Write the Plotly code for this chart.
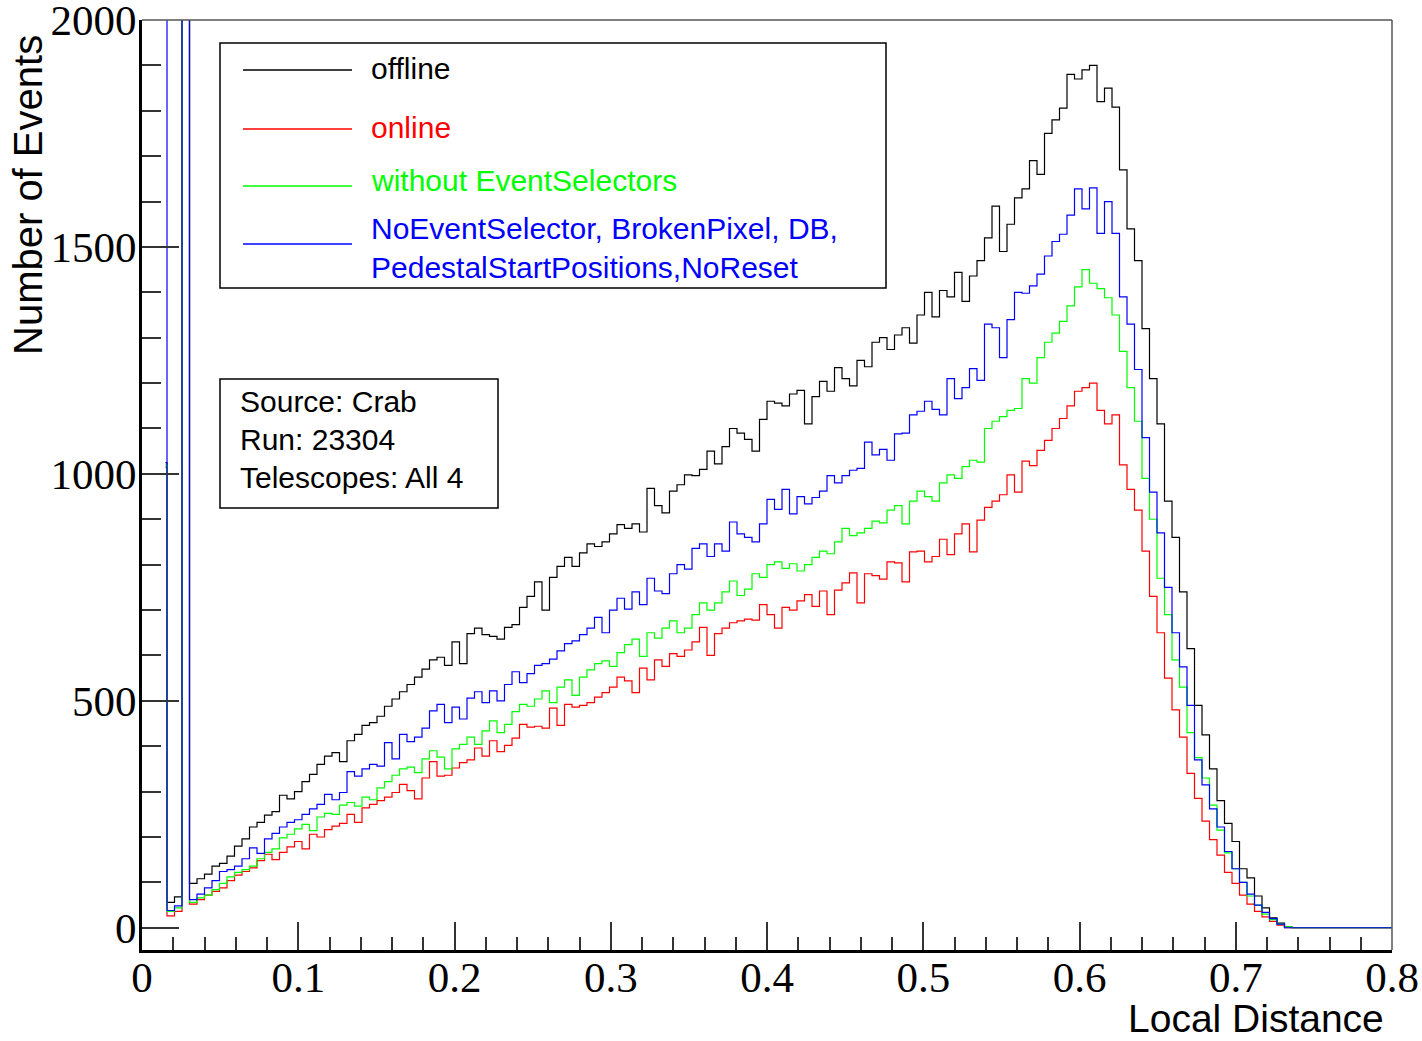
import plotly.graph_objects as go

# ---------------- data ----------------
# bin edges of the histogram (Local Distance)
head_edges = [0.0150, 0.0160, 0.0208, 0.0256]
reg_start, reg_width, reg_count = 0.0304, 0.0048, 148
tail_edge = 0.8

# first 4 (irregular) bins near the origin; values above 2000 are off-scale spikes
offline_head = [1025, 56, 68, 3000]
online_head = [1015, 26, 36, 3000]
noevsel_head = [1020, 36, 44, 3000]
custom_head = [4000, 38, 48, 4000]

offline = [
    98, 108, 118, 136, 142, 158, 180, 196, 222, 232,
    248, 256, 292, 284, 300, 322, 338, 360, 378, 386,
    366, 412, 426, 446, 452, 466, 488, 504, 520, 536,
    552, 570, 590, 596, 578, 630, 582, 648, 660, 646,
    642, 636, 662, 668, 706, 730, 762, 700, 772, 796,
    816, 796, 826, 846, 840, 850, 868, 888, 880, 890,
    872, 968, 930, 914, 962, 976, 998, 996, 1010, 1050,
    1022, 1060, 1100, 1090, 1076, 1050, 1120, 1160, 1156, 1150,
    1176, 1184, 1110, 1170, 1204, 1182, 1234, 1210, 1194, 1250,
    1236, 1290, 1300, 1274, 1306, 1322, 1288, 1350, 1400, 1346,
    1404, 1390, 1444, 1380, 1436, 1470, 1520, 1590, 1490, 1550,
    1608, 1628, 1690, 1660, 1750, 1780, 1806, 1880, 1870, 1890,
    1900, 1820, 1850, 1808, 1670, 1540, 1470, 1320, 1210, 1110,
    940, 860, 740, 615, 490, 425, 350, 280, 230, 190,
    130, 110, 70, 44, 22, 10, 2, 0,
]
online = [
    52, 62, 72, 80, 88, 104, 116, 124, 132, 148,
    162, 150, 166, 178, 190, 174, 206, 200, 216, 224,
    230, 250, 232, 264, 272, 280, 288, 298, 316, 302,
    284, 330, 366, 334, 336, 352, 364, 370, 396, 378,
    412, 388, 402, 418, 448, 442, 444, 440, 484, 446,
    492, 486, 490, 496, 508, 518, 530, 552, 544, 518,
    572, 546, 590, 576, 604, 598, 612, 630, 662, 600,
    648, 660, 672, 676, 680, 678, 712, 690, 660, 706,
    700, 720, 734, 708, 742, 690, 744, 760, 782, 716,
    780, 776, 768, 806, 804, 762, 828, 830, 806, 818,
    856, 822, 868, 890, 828, 898, 926, 940, 954, 998,
    960, 1028, 1018, 1052, 1074, 1100, 1122, 1150, 1182, 1190,
    1200, 1140, 1110, 1130, 1020, 966, 920, 830, 730, 650,
    550, 480, 420, 340, 285, 235, 194, 160, 122, 98,
    72, 52, 36, 24, 14, 6, 0, 0,
]
noevsel = [
    56, 66, 72, 84, 98, 112, 122, 128, 136, 152,
    166, 174, 198, 206, 218, 228, 214, 244, 252, 250,
    270, 276, 268, 288, 282, 308, 322, 336, 350, 354,
    342, 372, 390, 376, 350, 394, 404, 420, 404, 434,
    456, 430, 448, 476, 492, 488, 504, 522, 496, 530,
    546, 512, 552, 568, 582, 588, 576, 606, 624, 636,
    598, 650, 638, 660, 676, 650, 660, 690, 716, 700,
    716, 740, 764, 732, 746, 780, 772, 800, 806, 792,
    802, 786, 800, 816, 830, 824, 850, 880, 864, 870,
    880, 896, 892, 920, 930, 890, 940, 962, 950, 940,
    980, 998, 990, 1016, 1030, 1026, 1100, 1116, 1126, 1140,
    1144, 1210, 1200, 1256, 1290, 1310, 1336, 1370, 1412, 1450,
    1420, 1408, 1388, 1350, 1270, 1190, 1116, 990, 900, 770,
    690, 590, 530, 430, 375, 330, 270, 215, 165, 130,
    100, 70, 50, 30, 18, 8, 2, 0,
]
custom = [
    62, 74, 88, 104, 124, 128, 136, 152, 176, 164,
    196, 208, 222, 232, 238, 250, 262, 272, 294, 282,
    298, 344, 334, 350, 360, 356, 408, 372, 426, 410,
    420, 440, 478, 492, 452, 486, 460, 506, 520, 496,
    522, 500, 536, 564, 540, 560, 578, 582, 592, 610,
    626, 632, 646, 660, 684, 650, 700, 726, 702, 740,
    712, 770, 742, 736, 780, 800, 790, 836, 846, 818,
    846, 830, 894, 868, 860, 850, 890, 944, 922, 966,
    912, 950, 934, 948, 962, 996, 980, 996, 1008, 1012,
    1070, 1042, 1054, 1030, 1088, 1090, 1130, 1138, 1160, 1142,
    1130, 1210, 1166, 1190, 1232, 1206, 1330, 1322, 1256, 1340,
    1400, 1398, 1414, 1440, 1480, 1512, 1528, 1570, 1628, 1584,
    1630, 1530, 1600, 1530, 1390, 1330, 1230, 1080, 960, 870,
    750, 650, 575, 490, 370, 315, 262, 222, 168, 130,
    100, 74, 50, 34, 20, 8, 0, 0,
]

legend_labels = ["offline", "online", "without EventSelectors",
                 "NoEventSelector, BrokenPixel, DB,<br>PedestalStartPositions,NoReset"]
colors = ["#000000", "#ff0000", "#00ff00", "#0000ff"]
info_lines = ["Source: Crab", "Run: 23304", "Telescopes: All 4"]
x_ticks = [0, 0.1, 0.2, 0.3, 0.4, 0.5, 0.6, 0.7, 0.8]
x_ticktext = ["0", "0.1", "0.2", "0.3", "0.4", "0.5", "0.6", "0.7", "0.8"]
y_ticks = [0, 500, 1000, 1500, 2000]

# ---------------- build ----------------
edges = head_edges + [round(reg_start + reg_width * k, 4) for k in range(reg_count + 1)] + [tail_edge]


def hist_y(head, main):
    vals = head + main + [0]
    return vals + [vals[-1]]


series = [
    (offline_head, offline),
    (online_head, online),
    (noevsel_head, noevsel),
    (custom_head, custom),
]

fig = go.Figure()
for (head, main), col, lab in zip(series, colors, legend_labels):
    fig.add_trace(go.Scatter(
        x=edges, y=hist_y(head, main), mode="lines",
        line=dict(color=col, width=1.2, shape="hv"),
        name=lab.replace("<br>", " "), showlegend=False,
    ))

L, R, T, B = 142, 1392, 20, 950
W, H = 1422, 1041
pw, ph = R - L, B - T


def px(xp):
    return (xp - L) / pw


def py(yp):
    return (B - yp) / ph


tick_font = dict(family="Liberation Serif", size=43, color="black")
fig.update_xaxes(
    range=[0, 0.8], tickvals=x_ticks, ticktext=x_ticktext,
    ticks="inside", ticklen=28, tickwidth=1.5, tickcolor="#333",
    minor=dict(dtick=0.02, tick0=0, ticks="inside", ticklen=13, tickwidth=1.5, tickcolor="#333"),
    showline=True, linewidth=3, linecolor="black",
    showgrid=False, zeroline=False, tickfont=tick_font,
    automargin=False, ticklabeloverflow="allow", ticklabelstandoff=-13,
)
fig.update_yaxes(
    range=[-49, 2000], tickvals=y_ticks,
    ticks="inside", ticklen=37, tickwidth=1.5, tickcolor="#333",
    minor=dict(dtick=100, tick0=0, ticks="inside", ticklen=19, tickwidth=1.5, tickcolor="#333"),
    showline=True, linewidth=3, linecolor="black",
    showgrid=False, zeroline=False, tickfont=tick_font,
    automargin=False, ticklabeloverflow="allow", ticklabelstandoff=-6,
)

shapes = [
    dict(type="line", xref="paper", yref="paper", x0=0, x1=1, y0=1, y1=1,
         line=dict(color="#555", width=1.5)),
    dict(type="line", xref="paper", yref="paper", x0=1, x1=1, y0=0, y1=1,
         line=dict(color="#555", width=1.5)),
    # legend box
    dict(type="rect", xref="paper", yref="paper", x0=px(220), x1=px(886), y0=py(288), y1=py(43),
         line=dict(color="black", width=1.5)),
    # info box
    dict(type="rect", xref="paper", yref="paper", x0=px(220), x1=px(498), y0=py(508), y1=py(379),
         line=dict(color="black", width=1.5)),
]
leg_line_y = [70, 129, 186, 244]
for yy, col in zip(leg_line_y, colors):
    shapes.append(dict(type="line", xref="paper", yref="paper", x0=px(243), x1=px(352),
                       y0=py(yy), y1=py(yy), line=dict(color=col, width=1.5)))

annotations = []
leg_text_y = [68, 128, 181, 248]
text_font = "Liberation Sans"
for yy, col, lab in zip(leg_text_y, colors, legend_labels):
    annotations.append(dict(xref="paper", yref="paper", x=px(369), y=py(yy), text=lab,
                            showarrow=False, xanchor="left", yanchor="middle", align="left",
                            font=dict(family=text_font, size=30, color=col)))
for yy, t in zip([401, 439, 477], info_lines):
    annotations.append(dict(xref="paper", yref="paper", x=px(238), y=py(yy), text=t,
                            showarrow=False, xanchor="left", yanchor="middle",
                            font=dict(family=text_font, size=30, color="black")))
annotations.append(dict(xref="paper", yref="paper", x=px(28), y=py(195), text="Number of Events",
                        textangle=-90, showarrow=False, xanchor="center", yanchor="middle",
                        font=dict(family=text_font, size=40, color="black")))
annotations.append(dict(xref="paper", yref="paper", x=px(1386), y=py(1018), text="Local Distance",
                        showarrow=False, xanchor="right", yanchor="middle",
                        font=dict(family=text_font, size=39, color="black")))

fig.update_layout(
    width=W, height=H,
    margin=dict(l=L, r=W - R, t=T, b=H - B, pad=0, autoexpand=False),
    paper_bgcolor="white", plot_bgcolor="white",
    shapes=shapes, annotations=annotations,
    showlegend=False,
)

fig.write_html(
    "out.html",
    config={"displayModeBar": False},
    post_script="document.body.style.margin='0';document.body.style.overflow='hidden';",
)
